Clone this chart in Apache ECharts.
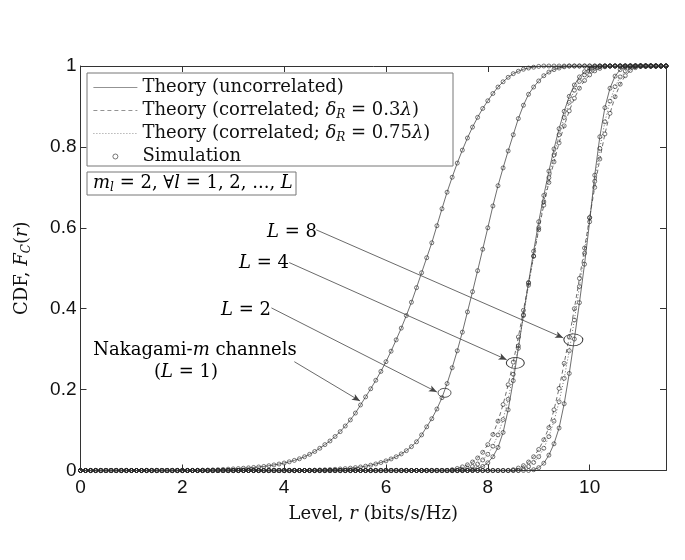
<!DOCTYPE html>
<html>
<head>
<meta charset="utf-8">
<script src="https://cdn.jsdelivr.net/npm/echarts@6/dist/echarts.min.js"></script>
<style>
html,body{margin:0;padding:0;background:#fff;}
#chart{width:685px;height:560px;}
</style>
</head>
<body>
<div id="chart"></div>
<script>
// ---- data, x step = 0.1 bits/s/Hz ----
// Each curve: first x where it leaves 0, then CDF values every 0.1 until it reaches 1.
const xMin = 0, xMax = 11.5, xStep = 0.1;
const xTicks = [0, 2, 4, 6, 8, 10];
const yTicks = [0, 0.2, 0.4, 0.6, 0.8, 1];

// L = 1 (Nakagami-m, single branch)
const L1_start = 2.0;
const L1_uncorr = [0.0000,0.0002,0.0004,0.0006,0.0008,0.0010,0.0014,0.0020,0.0026,0.0033,
  0.0040,0.0048,0.0056,0.0065,0.0075,0.0088,0.0100,0.0118,0.0138,0.0160,
  0.0185,0.0215,0.0250,0.029,0.034,0.040,0.047,0.055,0.064,0.073,
  0.084,0.096,0.110,0.125,0.142,0.162,0.182,0.202,0.223,0.245,
  0.269,0.295,0.323,0.352,0.383,0.416,0.452,0.489,0.526,0.563,
  0.605,0.647,0.688,0.725,0.760,0.792,0.822,0.849,0.873,0.895,
  0.914,0.932,0.948,0.961,0.972,0.981,0.987,0.992,0.995,0.997,
  0.999,1.000];

// L = 2
const L2_start = 4.5;
const L2_uncorr = [0.0005,0.0008,0.0012,0.0017,0.0023,
  0.0030,0.0038,0.0047,0.0058,0.0071,0.0087,0.0107,0.0132,0.0162,0.0197,
  0.0238,0.0286,0.034,0.041,0.049,0.059,0.071,0.088,0.108,0.128,
  0.152,0.180,0.215,0.254,0.296,0.342,0.392,0.442,0.494,0.547,
  0.600,0.654,0.704,0.748,0.790,0.830,0.870,0.903,0.930,0.948,
  0.963,0.976,0.985,0.991,0.995,0.998,1.000];

// L = 4
const L4_uncorr_start = 7.6;
const L4_uncorr = [0.000,0.002,0.005,0.010,0.019,0.034,0.057,0.094,0.150,0.222,0.302,0.385,
  0.465,0.542,0.615,0.680,0.740,0.795,0.845,0.888,0.925,0.953,0.973,0.986,0.994,0.998,1.000];
const L4_c03_start = 7.2;
const L4_c03 = [0.000,0.002,0.005,0.009,0.014,0.021,0.031,0.045,0.064,0.089,0.122,0.163,
  0.212,0.268,0.330,0.396,0.463,0.530,0.595,0.656,0.712,0.763,0.810,0.852,0.889,0.920,
  0.945,0.964,0.978,0.988,0.994,0.998,1.000];
const L4_c075_start = 7.4;
const L4_c075 = [0.000,0.002,0.005,0.010,0.016,0.026,0.040,0.060,0.088,0.126,0.176,0.238,
  0.308,0.383,0.458,0.530,0.600,0.664,0.724,0.780,0.830,0.873,0.910,0.940,0.962,0.978,
  0.988,0.994,0.998,1.000];

// L = 8
const L8_uncorr_start = 8.8;
const L8_uncorr = [0.000,0.002,0.007,0.018,0.038,0.066,0.105,0.165,0.240,0.325,0.415,0.510,
  0.615,0.730,0.825,0.897,0.945,0.975,0.991,0.997,1.000];
const L8_c03_start = 8.4;
const L8_c03 = [0.000,0.002,0.006,0.012,0.021,0.034,0.052,0.076,0.106,0.150,0.203,0.265,
  0.330,0.400,0.475,0.550,0.625,0.700,0.770,0.832,0.883,0.924,0.955,0.976,0.989,0.996,1.000];
const L8_c075_start = 8.6;
const L8_c075 = [0.000,0.004,0.010,0.020,0.034,0.055,0.084,0.122,0.170,0.228,0.296,0.372,
  0.455,0.537,0.625,0.715,0.796,0.862,0.913,0.949,0.973,0.988,0.995,1.000];

// annotation anchor points (data coordinates)
const annL8 = {from:[4.63,0.595], to:[9.48,0.328], ell:[9.68,0.323]};
const annL4 = {from:[4.10,0.514], to:[8.37,0.274], ell:[8.54,0.266]};
const annL2 = {from:[3.75,0.402], to:[7.00,0.194], ell:[7.15,0.192]};
const annL1 = {from:[4.20,0.269], to:[5.49,0.172]};

const NAME_U = 'Theory (uncorrelated)';
const NAME_C03 = 'Theory (correlated; δR = 0.3λ)';
const NAME_C075 = 'Theory (correlated; δR = 0.75λ)';
const NAME_SIM = 'Simulation';

// ---- build full curves: 0 before the rise, 1 after saturation (flat parts read as 0 / 1) ----
function curve(start, vals) {
  const n = Math.round((xMax - xMin) / xStep);
  const s = Math.round(start / xStep);
  const out = [];
  for (let i = 0; i <= n; i++) {
    let y;
    if (i < s) y = 0;
    else if (i - s < vals.length) y = vals[i - s];
    else y = 1;
    out.push([+(i * xStep).toFixed(1), y]);
  }
  return out;
}

const C = {
  L1: curve(L1_start, L1_uncorr),
  L2: curve(L2_start, L2_uncorr),
  L4u: curve(L4_uncorr_start, L4_uncorr),
  L4a: curve(L4_c03_start, L4_c03),
  L4b: curve(L4_c075_start, L4_c075),
  L8u: curve(L8_uncorr_start, L8_uncorr),
  L8a: curve(L8_c03_start, L8_c03),
  L8b: curve(L8_c075_start, L8_c075)
};

const lineCol = '#4a4a4a';
function lineSeries(name, data, type, extra) {
  return Object.assign({
    name: name, type: 'line', data: data, showSymbol: false, symbol: 'none',
    lineStyle: {color: lineCol, width: 0.8, type: type},
    itemStyle: {color: lineCol},
    silent: true, z: 2
  }, extra || {});
}
function simSeries(data) {
  return {
    name: NAME_SIM, type: 'scatter', data: data, symbol: 'circle', symbolSize: 4,
    itemStyle: {color: 'rgba(255,255,255,0)', borderColor: '#2a2a2a', borderWidth: 0.8},
    silent: true, z: 3
  };
}

const serif = 'DejaVu Serif';
const FS = 18;
const rich = {
  n: {fontFamily: serif, fontSize: FS, color: '#111'},
  i: {fontFamily: serif, fontSize: FS, fontStyle: 'italic', color: '#111'},
  s: {fontFamily: serif, fontSize: 12, fontStyle: 'italic', color: '#111', padding: [9, 0, 0, 0]}
};

const annStyle = {color: '#444', width: 0.8, type: 'solid'};
function arrow(a) {
  return [{coord: a.from, symbol: 'none'}, {coord: a.to, symbol: 'arrow', symbolSize: [5, 8]}];
}

const series = [
  lineSeries(NAME_U, C.L1, 'solid', {
    markLine: {
      silent: true, animation: false, symbol: ['none', 'arrow'], symbolSize: 7,
      label: {show: false}, lineStyle: annStyle,
      data: [arrow(annL8), arrow(annL4), arrow(annL2), arrow(annL1)]
    },
    markPoint: {
      silent: true, animation: false, symbol: 'circle', label: {show: false},
      itemStyle: {color: 'rgba(255,255,255,0)', borderColor: '#333', borderWidth: 0.8},
      data: [
        {coord: annL8.ell, symbolSize: [19, 12]},
        {coord: annL4.ell, symbolSize: [18, 11]},
        {coord: annL2.ell, symbolSize: [13, 9]}
      ]
    }
  }),
  lineSeries(NAME_U, C.L2, 'solid'),
  lineSeries(NAME_U, C.L4u, 'solid'),
  lineSeries(NAME_U, C.L8u, 'solid'),
  lineSeries(NAME_C03, C.L4a, [4, 3]),
  lineSeries(NAME_C03, C.L8a, [4, 3]),
  lineSeries(NAME_C075, C.L4b, [1, 2]),
  lineSeries(NAME_C075, C.L8b, [1, 2]),
  simSeries(C.L1), simSeries(C.L2),
  simSeries(C.L4u), simSeries(C.L4a), simSeries(C.L4b),
  simSeries(C.L8u), simSeries(C.L8a), simSeries(C.L8b)
];

const legendText = {};
legendText[NAME_U] = '{n|Theory (uncorrelated)}';
legendText[NAME_C03] = '{n|Theory (correlated; }{i|δ}{s|R}{n| = 0.3}{i|λ}{n|)}';
legendText[NAME_C075] = '{n|Theory (correlated; }{i|δ}{s|R}{n| = 0.75}{i|λ}{n|)}';
legendText[NAME_SIM] = '{n|Simulation}';

const noSym = {color: 'rgba(0,0,0,0)', borderWidth: 0, borderColor: 'rgba(0,0,0,0)'};
const legLine = {color: '#777', width: 0.8};

const axisCol = '#333';
const tickFont = {fontFamily: 'Liberation Sans', fontSize: 19, color: '#111'};

const chart = echarts.init(document.getElementById('chart'), null, {renderer: 'canvas'});
chart.setOption({
  animation: false,
  backgroundColor: '#fff',
  grid: {left: 80.5, right: 19, top: 66, bottom: 89.5, containLabel: false},
  xAxis: [{
    type: 'value', min: xMin, max: xMax, interval: xTicks[1] - xTicks[0],
    axisLine: {show: true, onZero: false, lineStyle: {color: axisCol, width: 1}},
    axisTick: {show: true, inside: true, length: 6, lineStyle: {color: axisCol}},
    axisLabel: Object.assign({margin: 8, showMaxLabel: false}, tickFont),
    splitLine: {show: false},
    name: 'Level, {i|r} (bits/s/Hz)', nameLocation: 'middle', nameGap: 35,
    nameTextStyle: {fontFamily: serif, fontSize: FS, color: '#111', rich: rich}
  }, {
    type: 'value', position: 'top', min: xMin, max: xMax, interval: xTicks[1] - xTicks[0],
    axisLine: {show: true, onZero: false, lineStyle: {color: axisCol, width: 1}},
    axisTick: {show: true, inside: true, length: 6, lineStyle: {color: axisCol}},
    axisLabel: {show: false}, splitLine: {show: false}
  }],
  yAxis: [{
    type: 'value', min: yTicks[0], max: yTicks[yTicks.length - 1], interval: yTicks[1] - yTicks[0],
    axisLine: {show: true, onZero: false, lineStyle: {color: axisCol, width: 1}},
    axisTick: {show: true, inside: true, length: 6, lineStyle: {color: axisCol}},
    axisLabel: Object.assign({margin: 4}, tickFont),
    splitLine: {show: false},
    name: '{n|CDF, }{i|F}{s|C}{n|(}{i|r}{n|)}', nameLocation: 'middle', nameGap: 48, nameRotate: 90,
    nameTextStyle: {fontFamily: serif, fontSize: FS, color: '#111', rich: rich}
  }, {
    type: 'value', position: 'right', min: yTicks[0], max: yTicks[yTicks.length - 1], interval: yTicks[1] - yTicks[0],
    axisLine: {show: true, onZero: false, lineStyle: {color: axisCol, width: 1}},
    axisTick: {show: true, inside: true, length: 6, lineStyle: {color: axisCol}},
    axisLabel: {show: false}, splitLine: {show: false}
  }],
  legend: {
    show: true, orient: 'vertical', left: 87, top: 75,
    data: [
      {name: NAME_U, itemStyle: noSym, lineStyle: Object.assign({type: 'solid'}, legLine)},
      {name: NAME_C03, itemStyle: noSym, lineStyle: Object.assign({type: [4, 3]}, legLine)},
      {name: NAME_C075, itemStyle: noSym, lineStyle: Object.assign({type: [1, 2]}, legLine)},
      {name: NAME_SIM, itemStyle: {color: 'rgba(255,255,255,0)', borderColor: '#2a2a2a', borderWidth: 0.8}}
    ],
    itemWidth: 44, itemHeight: 5, itemGap: 2, padding: [2, 6, 2, 6],
    selectedMode: false,
    formatter: function (name) { return legendText[name]; },
    textStyle: {fontFamily: serif, fontSize: FS, color: '#111', lineHeight: 21, rich: rich}
  },
  graphic: [
    {type: 'rect', shape: {x: 87, y: 73, width: 366, height: 93}, style: {fill: 'none', stroke: '#777', lineWidth: 1}, z: 10, silent: true},
    {type: 'rect', shape: {x: 87, y: 172, width: 209, height: 23}, style: {fill: '#fff', stroke: '#777', lineWidth: 1}, z: 10, silent: true},
    {type: 'text', x: 93, y: 183.5, z: 11, silent: true,
      style: {text: '{i|m}{s|l}{n| = 2, ∀}{i|l}{n| = 1, 2, ..., }{i|L}', verticalAlign: 'middle', rich: rich}},
    {type: 'text', x: 317, y: 232, z: 11, silent: true,
      style: {text: '{i|L}{n| = 8}', align: 'right', verticalAlign: 'middle', rich: rich}},
    {type: 'text', x: 289, y: 263, z: 11, silent: true,
      style: {text: '{i|L}{n| = 4}', align: 'right', verticalAlign: 'middle', rich: rich}},
    {type: 'text', x: 271, y: 310, z: 11, silent: true,
      style: {text: '{i|L}{n| = 2}', align: 'right', verticalAlign: 'middle', rich: rich}},
    {type: 'text', x: 195, y: 350, z: 11, silent: true,
      style: {text: '{n|Nakagami-}{i|m}{n| channels}', align: 'center', verticalAlign: 'middle', rich: rich}},
    {type: 'text', x: 186, y: 372, z: 11, silent: true,
      style: {text: '{n|(}{i|L}{n| = 1)}', align: 'center', verticalAlign: 'middle', rich: rich}}
  ],
  series: series
});
</script>
</body>
</html>
